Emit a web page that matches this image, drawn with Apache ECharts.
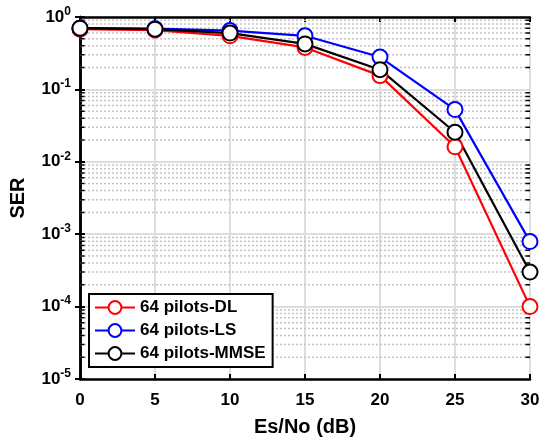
<!DOCTYPE html>
<html>
<head>
<meta charset="utf-8">
<script src="https://cdn.jsdelivr.net/npm/echarts@6/dist/echarts.min.js"></script>
<style>
  html, body { margin: 0; padding: 0; background: #fff; }
  #chart { width: 547px; height: 442px; }
</style>
</head>
<body>
<div id="chart"></div>
<script>
const snr = [0, 5, 10, 15, 20, 25, 30];
const serDL = [0.68, 0.66, 0.55, 0.38, 0.155, 0.0161, 0.0001];
const serLS = [0.70, 0.69, 0.65, 0.55, 0.28, 0.0526, 0.00079];
const serMMSE = [0.70, 0.68, 0.60, 0.425, 0.187, 0.0256, 0.0003];
const seriesNames = ['64 pilots-DL', '64 pilots-LS', '64 pilots-MMSE'];
const seriesColors = ['#ff0000', '#0000ff', '#000000'];

// log minor grid positions 2..9 x 10^k
const minorGrid = [];
for (let k = -5; k < 0; k++) {
  for (let m = 2; m <= 9; m++) minorGrid.push(m * Math.pow(10, k));
}

const chart = echarts.init(document.getElementById('chart'));
const font = 'Liberation Sans, Arial, sans-serif';

function lineSeries(name, data, color) {
  return {
    name: name,
    type: 'line',
    data: snr.map((x, i) => [x, data[i]]),
    symbol: 'emptyCircle',
    symbolSize: 15,
    lineStyle: { color: color, width: 2.2 },
    itemStyle: { color: color, borderColor: color, borderWidth: 2.2 },
    z: 5
  };
}

// horizontal segments broken by gaps
function segments(x0, x1) {
  const out = [];
  minorGrid.forEach(v => { out.push([x0, v], [x1, v], [x1, '-']); });
  return out;
}

const option = {
  animation: false,
  grid: { left: 79, right: 17, top: 17, bottom: 61, show: false },
  legend: {
    orient: 'vertical',
    left: 89,
    top: 294,
    itemGap: 6,
    itemWidth: 40,
    itemHeight: 16,
    padding: [5, 7, 5, 5],
    borderColor: '#000',
    borderWidth: 2,
    backgroundColor: '#fff',
    data: seriesNames,
    textStyle: { fontFamily: font, fontWeight: 'bold', fontSize: 17, color: '#000' },
    z: 10
  },
  xAxis: [
    {
      type: 'value', min: 0, max: 30, interval: 5,
      name: 'Es/No (dB)', nameLocation: 'middle', nameGap: 38,
      nameTextStyle: { fontFamily: font, fontWeight: 'bold', fontSize: 20, color: '#000' },
      axisLine: { lineStyle: { color: '#000', width: 2.5 } },
      axisTick: { inside: true, length: 5, lineStyle: { color: '#000', width: 2 } },
      axisLabel: { fontFamily: font, fontWeight: 'bold', fontSize: 17, color: '#000', margin: 13 },
      splitLine: { show: true, lineStyle: { color: '#dedede', width: 2 } }
    },
    {
      type: 'value', min: 0, max: 30, interval: 5, position: 'top',
      axisLine: { lineStyle: { color: '#000', width: 2.5 } },
      axisTick: { inside: true, length: 5, lineStyle: { color: '#000', width: 2 } },
      axisLabel: { show: false },
      splitLine: { show: false }
    }
  ],
  yAxis: [
    {
      type: 'log', logBase: 10, min: 1e-5, max: 1, interval: 1,
      name: 'SER', nameLocation: 'middle', nameGap: 52, nameRotate: 90,
      nameTextStyle: { fontFamily: font, fontWeight: 'bold', fontSize: 20, color: '#000' },
      axisLine: { lineStyle: { color: '#000', width: 2.5 } },
      axisTick: { inside: true, length: 5, lineStyle: { color: '#000', width: 2 } },
      axisLabel: {
        margin: 9,
        formatter: v => '{b|10}{e|' + Math.round(Math.log10(v)) + '}',
        rich: {
          b: { fontFamily: font, fontWeight: 'bold', fontSize: 17, color: '#000' },
          e: { fontFamily: font, fontWeight: 'bold', fontSize: 12, color: '#000', padding: [0, 0, 11, 0] }
        }
      },
      splitLine: { show: true, lineStyle: { color: '#dedede', width: 2 } }
    },
    {
      type: 'log', logBase: 10, min: 1e-5, max: 1, interval: 1, position: 'right',
      axisLine: { lineStyle: { color: '#000', width: 2.5 } },
      axisTick: { inside: true, length: 5, lineStyle: { color: '#000', width: 2 } },
      axisLabel: { show: false },
      splitLine: { show: false }
    }
  ],
  series: [
    {
      // dotted minor grid
      type: 'line', data: segments(0, 30), symbol: 'none', silent: true,
      connectNulls: false,
      lineStyle: { type: [2, 2], color: '#c4c4c4', width: 1.5 },
      z: 1
    },
    {
      // minor ticks, left
      type: 'line', data: segments(0, 0.3), symbol: 'none', silent: true,
      connectNulls: false,
      lineStyle: { color: '#000', width: 1.5 },
      z: 2
    },
    {
      // minor ticks, right
      type: 'line', data: segments(29.7, 30), symbol: 'none', silent: true,
      connectNulls: false,
      lineStyle: { color: '#000', width: 1.5 },
      z: 2
    },
    lineSeries(seriesNames[0], serDL, seriesColors[0]),
    lineSeries(seriesNames[1], serLS, seriesColors[1]),
    lineSeries(seriesNames[2], serMMSE, seriesColors[2])
  ]
};

chart.setOption(option);
</script>
</body>
</html>
